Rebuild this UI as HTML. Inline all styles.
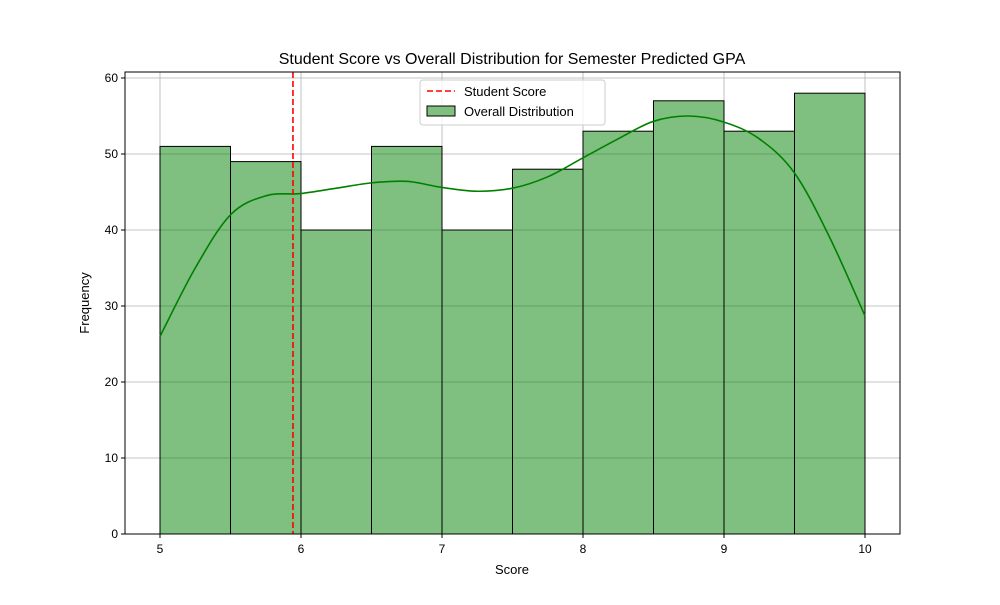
<!DOCTYPE html>
<html><head><meta charset="utf-8"><style>body{margin:0;background:#fff}svg{font-family:"Liberation Sans","DejaVu Sans",sans-serif}</style></head>
<body>
<svg id="chart" width="1000" height="600" xmlns="http://www.w3.org/2000/svg">
<rect width="1000" height="600" fill="#fff"/>
<g id="grid"></g><g id="bars"></g><g id="kde"></g><g id="axes"></g>
<text x="512" y="64" text-anchor="middle" font-size="16">Student Score vs Overall Distribution for Semester Predicted GPA</text>
<text x="512" y="574" text-anchor="middle" font-size="13">Score</text>
<text transform="translate(89,303) rotate(-90)" text-anchor="middle" font-size="13">Frequency</text>
<g>
<rect x="420" y="80" width="185" height="45" rx="3" fill="#fff" fill-opacity="0.8" stroke="#ccc"/>
<line x1="427" y1="91" x2="455" y2="91" stroke="red" stroke-width="1.6" stroke-dasharray="6,3"/>
<text x="464" y="96" font-size="13">Student Score</text>
<rect x="427" y="106" width="28" height="10" fill="#80bf80" stroke="#000"/>
<text x="464" y="116" font-size="13">Overall Distribution</text>
</g>
</svg>
<script>
const binEdges=[5,5.5,6,6.5,7,7.5,8,8.5,9,9.5,10];
const counts=[51,49,40,51,40,48,53,57,53,58];
const kdeX=[5,5.25,5.5,5.75,6,6.25,6.5,6.75,7,7.25,7.5,7.75,8,8.25,8.5,8.75,9,9.25,9.5,9.75,10];
const kdeY=[26,35,42,44.5,44.8,45.5,46.2,46.4,45.6,45.1,45.5,47,49.5,52,54.3,55,54.2,52,47.5,39,28.7];
const studentScore=5.943;
const xTicks=[5,6,7,8,9,10];
const yTicks=[0,10,20,30,40,50,60];
const NS="http://www.w3.org/2000/svg";
const L=125,R=900,T=72,B=534;
const sx=v=>160+(v-5)*141;
const sy=v=>534-v*7.6;
function mk(tag,attrs,parent){const e=document.createElementNS(NS,tag);for(const k in attrs)e.setAttribute(k,attrs[k]);document.getElementById(parent).appendChild(e);return e;}
xTicks.forEach(t=>{const g=mk('line',{x1:sx(t),x2:sx(t),y1:T,y2:B,stroke:'#b0b0b0','stroke-width':0.8},'grid');

});
yTicks.forEach(t=>{const g=mk('line',{x1:L,x2:R,y1:sy(t),y2:sy(t),stroke:'#b0b0b0','stroke-width':0.8},'grid');

});
counts.forEach((c,i)=>{const r=mk('rect',{x:sx(binEdges[i]),y:sy(c),width:sx(binEdges[i+1])-sx(binEdges[i]),height:sy(0)-sy(c),fill:'#008000','fill-opacity':0.5,stroke:'#000','stroke-width':1},'bars');

});
const pts=kdeX.map((x,i)=>[sx(x),sy(kdeY[i])]);
let d='M'+pts[0][0]+','+pts[0][1];
for(let i=0;i<pts.length-1;i++){const p0=pts[Math.max(0,i-1)],p1=pts[i],p2=pts[i+1],p3=pts[Math.min(pts.length-1,i+2)];
d+=' C'+(p1[0]+(p2[0]-p0[0])/6)+','+(p1[1]+(p2[1]-p0[1])/6)+' '+(p2[0]-(p3[0]-p1[0])/6)+','+(p2[1]-(p3[1]-p1[1])/6)+' '+p2[0]+','+p2[1];}
const p=mk('path',{d:d,fill:'none',stroke:'green','stroke-width':1.6},'kde');


const sl=mk('line',{x1:sx(studentScore),x2:sx(studentScore),y1:T,y2:B,stroke:'red','stroke-width':1.6,'stroke-dasharray':'6,3'},'kde');


const fr=mk('rect',{x:L,y:T,width:R-L,height:B-T,fill:'none',stroke:'#000','stroke-width':1},'axes');


xTicks.forEach(t=>{mk('line',{x1:sx(t),x2:sx(t),y1:B,y2:B+4,stroke:'#000'},'axes');
const tx=mk('text',{x:sx(t),y:B+19,'text-anchor':'middle','font-size':12},'axes');tx.textContent=t;

});
yTicks.forEach(t=>{mk('line',{x1:L-4,x2:L,y1:sy(t),y2:sy(t),stroke:'#000'},'axes');
const tx=mk('text',{x:L-7,y:sy(t)+4,'text-anchor':'end','font-size':12},'axes');tx.textContent=t;

});
</script>
</body></html>
